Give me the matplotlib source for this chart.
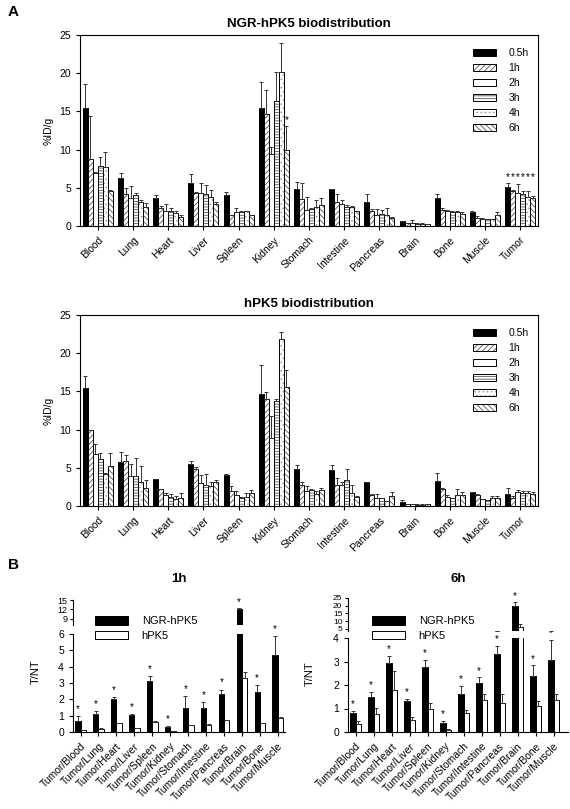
import numpy as np
import matplotlib
matplotlib.use("Agg")
import matplotlib.pyplot as plt
from matplotlib.patches import Patch

plt.rcParams['font.family'] = ['Liberation Sans', 'DejaVu Sans']
plt.rcParams['hatch.linewidth'] = 0.6
plt.rcParams['axes.linewidth'] = 0.8

organs = ['Blood', 'Lung', 'Heart', 'Liver', 'Spleen', 'Kidney', 'Stomach',
          'Intestine', 'Pancreas', 'Brain', 'Bone', 'Muscle', 'Tumor']
times = ['0.5h', '1h', '2h', '3h', '4h', '6h']

# NGR-hPK5 %ID/g (mean, top of error bar), one row per time point
ngr_mean = [
    [15.5, 6.3, 3.7, 5.6, 4.1, 15.5, 4.8, 4.8, 3.2, 0.6, 3.6, 1.8, 5.1],
    [8.8, 4.2, 2.3, 4.3, 1.4, 14.6, 3.5, 3.2, 2.0, 0.35, 2.1, 1.1, 4.6],
    [6.9, 3.7, 2.0, 4.3, 1.8, 9.4, 2.1, 2.85, 1.4, 0.45, 2.0, 0.95, 4.3],
    [7.9, 4.0, 1.9, 4.2, 1.8, 16.4, 2.2, 2.5, 1.6, 0.3, 1.8, 0.9, 4.2],
    [7.7, 3.1, 1.7, 3.8, 1.9, 20.2, 2.5, 2.5, 1.5, 0.3, 1.8, 0.9, 3.8],
    [4.6, 2.5, 1.2, 2.9, 1.4, 10.0, 2.7, 1.9, 1.1, 0.2, 1.6, 1.4, 3.6],
]
ngr_top = [
    [18.6, 7.0, 4.1, 6.8, 4.4, 18.9, 5.8, 4.9, 4.2, 0.7, 4.2, 2.0, 5.6],
    [14.4, 5.0, 2.6, 4.5, 1.5, 17.8, 5.6, 4.2, 2.2, 0.4, 2.3, 1.3, 4.7],
    [7.1, 5.2, 2.9, 5.6, 2.3, 10.3, 3.8, 3.4, 2.2, 0.8, 2.1, 1.0, 5.5],
    [9.0, 4.3, 2.4, 5.4, 1.9, 20.2, 2.3, 2.7, 2.1, 0.35, 2.0, 0.95, 4.6],
    [9.7, 3.4, 1.9, 4.7, 2.0, 24.0, 3.4, 2.6, 2.3, 0.35, 2.0, 0.95, 4.6],
    [4.7, 3.0, 1.4, 3.1, 1.5, 13.1, 3.6, 2.0, 1.2, 0.25, 1.8, 1.8, 3.9],
]
# hPK5 %ID/g
hpk_mean = [
    [15.4, 5.8, 3.5, 5.5, 4.0, 14.6, 4.9, 4.7, 3.1, 0.5, 3.3, 1.8, 1.6],
    [9.9, 5.9, 2.2, 4.8, 2.0, 14.0, 2.8, 2.8, 1.5, 0.25, 2.2, 1.5, 1.0],
    [6.8, 3.9, 1.4, 3.0, 1.5, 8.9, 2.0, 2.8, 1.1, 0.2, 1.2, 0.9, 1.8],
    [6.1, 3.9, 1.2, 2.8, 1.1, 13.8, 2.1, 3.4, 1.0, 0.15, 1.0, 0.8, 1.7],
    [4.2, 3.1, 0.9, 2.6, 1.2, 21.9, 1.6, 1.75, 0.65, 0.15, 1.45, 1.0, 1.7],
    [5.2, 2.4, 1.1, 3.1, 1.7, 15.6, 2.1, 1.2, 1.3, 0.25, 1.45, 1.1, 1.6],
]
hpk_top = [
    [17.0, 7.1, 3.55, 5.9, 4.2, 18.5, 5.4, 5.35, 3.15, 0.8, 4.3, 1.85, 2.3],
    [9.95, 6.7, 2.25, 5.1, 2.6, 14.9, 3.1, 3.6, 1.55, 0.3, 2.4, 1.6, 1.3],
    [8.1, 5.5, 1.7, 4.1, 1.9, 11.8, 2.6, 3.2, 1.6, 0.25, 1.5, 0.95, 2.1],
    [7.0, 6.3, 1.6, 4.2, 1.2, 14.0, 2.2, 4.8, 1.1, 0.2, 1.1, 0.85, 2.0],
    [4.3, 5.3, 1.3, 3.1, 1.7, 22.8, 2.0, 2.7, 0.7, 0.2, 2.2, 1.3, 1.9],
    [6.9, 3.4, 1.7, 3.4, 2.1, 17.8, 2.3, 1.3, 1.8, 0.3, 1.8, 1.3, 1.8],
]

# T/NT ratios
ratios = ['Tumor/Blood', 'Tumor/Lung', 'Tumor/Heart', 'Tumor/Liver', 'Tumor/Spleen',
          'Tumor/Kidney', 'Tumor/Stomach', 'Tumor/Intestine', 'Tumor/Pancreas',
          'Tumor/Brain', 'Tumor/Bone', 'Tumor/Muscle']
r1_ngr = [0.65, 1.1, 2.0, 1.05, 3.15, 0.3, 1.5, 1.5, 2.35, 12.2, 2.45, 4.7]
r1_ngr_top = [1.0, 1.3, 2.15, 1.1, 3.4, 0.35, 2.2, 1.85, 2.6, 12.5, 2.85, 5.9]
r1_hpk = [0.1, 0.2, 0.53, 0.22, 0.6, 0.07, 0.42, 0.43, 0.72, 3.3, 0.55, 0.85]
r1_hpk_top = [0.12, 0.22, 0.56, 0.25, 0.7, 0.08, 0.45, 0.5, 0.75, 3.65, 0.58, 0.93]
r6_ngr = [0.8, 1.5, 2.92, 1.3, 2.78, 0.38, 1.63, 2.07, 3.33, 19.5, 2.4, 3.05]
r6_ngr_top = [0.88, 1.7, 3.25, 1.42, 3.07, 0.48, 1.95, 2.32, 3.68, 22.5, 2.83, 3.92]
r6_hpk = [0.35, 0.75, 1.77, 0.52, 0.97, 0.1, 0.8, 1.35, 1.22, 6.5, 1.1, 1.35]
r6_hpk_top = [0.45, 1.02, 2.6, 0.62, 1.25, 0.12, 0.92, 1.6, 1.62, 8.0, 1.33, 1.6]

# bar styles for time points: (facecolor, hatch, hatch colour)
styles = [('black', None, 'black'),
          ('white', '//////', '#555555'),
          ('white', None, 'black'),
          ('white', '------', '#555555'),
          ('white', '....', '#999999'),
          ('white', '\\\\\\\\\\\\', '#555555')]

fs = 7.5


def draw_bar(ax, x, h, w, style):
    fc, hatch, hc = style
    if hatch:
        ax.bar(x, h, w, color=fc, hatch=hatch, edgecolor=hc, linewidth=0)
        ax.bar(x, h, w, fill=False, edgecolor='black', linewidth=0.7)
    else:
        ax.bar(x, h, w, color=fc, edgecolor='black', linewidth=0.7)


def bio_panel(ax, means, tops, title, stars, star_row=None):
    x = np.arange(len(organs))
    w = 0.142
    for i in range(len(times)):
        pos = x + (i - 2.5) * w
        m = np.array(means[i])
        t = np.array(tops[i])
        draw_bar(ax, pos, m, w, styles[i])
        ax.errorbar(pos, m, yerr=[np.zeros_like(m), t - m], fmt='none',
                    ecolor='#333333', elinewidth=0.7, capsize=1.2, capthick=0.7)
    for (i, j) in stars:
        ax.text(j + (i - 2.5) * w, tops[i][j] + 0.1, '*', ha='center', va='bottom',
                fontsize=7)
    # one row of stars over a whole group
    if star_row is not None:
        j = star_row
        ymax = max(tops[i][j] for i in range(len(times)))
        for i in range(len(times)):
            ax.text(j + (i - 2.5) * w, ymax + 0.2, '*', ha='center', va='bottom',
                    fontsize=7)
    ax.set_xlim(-0.51, len(organs) - 0.49)
    ax.set_ylim(0, 25)
    ax.set_yticks([0, 5, 10, 15, 20, 25])
    ax.set_xticks(x)
    ax.set_xticklabels(organs, rotation=45, ha='right', rotation_mode='anchor',
                       fontsize=fs)
    ax.tick_params(labelsize=fs, length=3, width=0.8)
    ax.set_ylabel('%ID/g', fontsize=fs, labelpad=4)
    ax.set_title(title, fontsize=9.5, fontweight='bold', pad=6)
    handles = []
    for st in styles:
        fc, hatch, hc = st
        if hatch:
            handles.append((Patch(facecolor=fc, hatch=hatch, edgecolor=hc, lw=0),
                            Patch(fill=False, edgecolor='black', lw=0.7)))
        else:
            handles.append(Patch(facecolor=fc, edgecolor='black', lw=0.7))
    ax.legend(handles, times, loc='upper right', frameon=False, fontsize=fs,
              handlelength=2.2, handleheight=0.7, labelspacing=0.48,
              handletextpad=1.2, bbox_to_anchor=(1.0, 0.98))


fig = plt.figure(figsize=(5.7, 8.09), dpi=100)
H = 809.0
W = 570.0

ax1 = fig.add_axes([80 / W, 1 - 226 / H, 458 / W, 191 / H])
bio_panel(ax1, ngr_mean, ngr_top, 'NGR-hPK5 biodistribution', [(5, 5)], star_row=12)
ax2 = fig.add_axes([80 / W, 1 - 506 / H, 458 / W, 191 / H])
bio_panel(ax2, hpk_mean, hpk_top, 'hPK5 biodistribution', [])


def ratio_panel(left, width, lo_box, hi_box, lo_lim, hi_lim, hi_ticks, lo_ticks,
                ngr, ngr_top, hpk, hpk_top, title, xmax, hi_fs):
    ax_lo = fig.add_axes([left, lo_box[0], width, lo_box[1]])
    ax_hi = fig.add_axes([left, hi_box[0], width, hi_box[1]], sharex=ax_lo)
    x = np.arange(len(ratios))
    w = 0.3
    for ax in (ax_lo, ax_hi):
        ax.bar(x - w / 2, ngr, w, color='black', edgecolor='black', linewidth=0.7,
               label='NGR-hPK5')
        ax.bar(x + w / 2, hpk, w, color='white', edgecolor='black', linewidth=0.7,
               label='hPK5')
        n = np.array(ngr)
        hh = np.array(hpk)
        ax.errorbar(x - w / 2, n, yerr=[np.zeros_like(n), np.array(ngr_top) - n],
                    fmt='none', ecolor='#333333', elinewidth=0.7, capsize=1.2,
                    capthick=0.7)
        ax.errorbar(x + w / 2, hh, yerr=[np.zeros_like(hh), np.array(hpk_top) - hh],
                    fmt='none', ecolor='#333333', elinewidth=0.7, capsize=1.2,
                    capthick=0.7)
        ax.spines['top'].set_visible(False)
        ax.spines['right'].set_visible(False)
        ax.tick_params(labelsize=fs, length=3, width=0.8)
    ax_lo.set_ylim(*lo_lim)
    ax_hi.set_ylim(*hi_lim)
    ax_lo.set_yticks(lo_ticks)
    ax_hi.set_yticks(hi_ticks)
    ax_hi.spines['bottom'].set_visible(False)
    ax_hi.tick_params(axis='x', bottom=False, labelbottom=False)
    ax_hi.tick_params(axis='y', pad=1.5, labelsize=hi_fs, length=2.5)
    ax_lo.set_xlim(-0.42, xmax)
    ax_lo.set_xticks(x)
    ax_lo.set_xticklabels(ratios, rotation=45, ha='right', rotation_mode='anchor',
                          fontsize=fs)
    for j in range(len(ratios)):
        y = ngr_top[j]
        target = ax_hi if y > lo_lim[1] else ax_lo
        span = (hi_lim[1] - hi_lim[0]) if target is ax_hi else (lo_lim[1] - lo_lim[0])
        target.text(j - w / 2, y + 0.02 * span, '*', ha='center', va='bottom',
                    fontsize=7, clip_on=False)
    ax_lo.set_ylabel('T/NT', fontsize=fs + 0.5)
    ax_lo.yaxis.set_label_coords(-0.15, 0.62)
    # title centred over the panel
    fig.text(left + width / 2, 1 - 579 / H, title, fontsize=9.5, fontweight='bold',
             ha='center', va='center')
    return ax_lo, ax_hi


lo1, hi1 = ratio_panel(73 / W, 212 / W, (1 - 732 / H, 98 / H), (1 - 625 / H, 25 / H),
                       (0, 6), (7.1, 15), [9, 12, 15], [0, 1, 2, 3, 4, 5, 6],
                       r1_ngr, r1_ngr_top, r1_hpk, r1_hpk_top, '1h', 11.4, 6.5)
lo6, hi6 = ratio_panel(348 / W, 220 / W, (1 - 732 / H, 94 / H), (1 - 631 / H, 33 / H),
                       (0, 4), (3.6, 25), [5, 10, 15, 20, 25], [0, 1, 2, 3, 4],
                       r6_ngr, r6_ngr_top, r6_hpk, r6_hpk_top, '6h', 11.8, 6.0)

for lo, xpos in ((lo1, 85 / W), (lo6, 362 / W)):
    h, l = lo.get_legend_handles_labels()
    fig.legend(h, l, loc='upper left', bbox_to_anchor=(xpos, 1 - 606 / H),
               frameon=False, fontsize=fs + 0.5, handlelength=3.0, handleheight=0.8,
               labelspacing=0.4, handletextpad=1.2)

fig.text(8 / W, 1 - 12 / H, 'A', fontsize=11, fontweight='bold', va='center')
fig.text(8 / W, 1 - 565 / H, 'B', fontsize=11, fontweight='bold', va='center')

fig.savefig('out.png', dpi=100)
